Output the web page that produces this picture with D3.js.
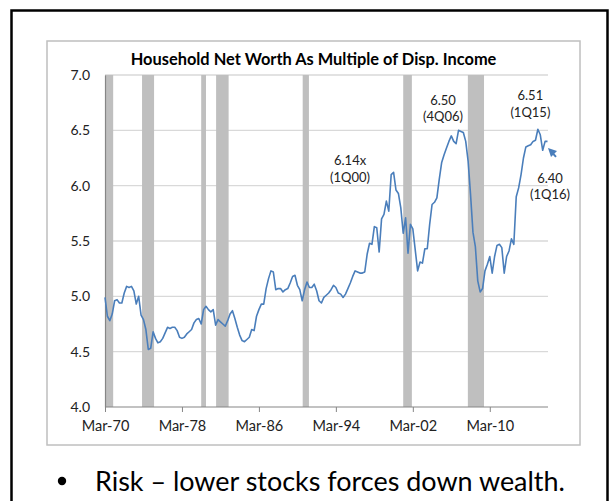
<!DOCTYPE html>
<html><head><meta charset="utf-8">
<script src="https://cdn.jsdelivr.net/npm/d3@7"></script>
<style>body{margin:0;background:#fff;} svg{display:block;font-family:Lato,"Open Sans",sans-serif;}</style>
</head><body><div id="c"></div>
<script>
// Quarterly data, 1970Q1 .. 2016Q1
const startYear = 1970;
const values = [
4.99,4.82,4.78,4.84,4.96,4.97,4.94,4.94,5.03,5.09,
5.08,5.09,5.05,4.93,5.00,4.83,4.79,4.70,4.52,4.53,
4.68,4.62,4.58,4.59,4.62,4.67,4.72,4.71,4.72,4.72,
4.69,4.63,4.62,4.63,4.66,4.68,4.70,4.76,4.79,4.80,
4.75,4.88,4.91,4.88,4.86,4.88,4.74,4.79,4.77,4.75,
4.73,4.78,4.84,4.87,4.80,4.72,4.65,4.60,4.59,4.61,
4.63,4.70,4.69,4.82,4.88,4.93,4.93,5.07,5.16,5.23,
5.22,5.06,5.07,5.07,5.04,5.06,5.07,5.12,5.18,5.19,
5.10,5.06,4.96,5.06,5.13,5.08,5.08,5.11,5.05,4.96,
4.94,4.99,5.01,5.03,5.06,5.10,5.08,5.03,5.02,4.99,
5.02,5.07,5.12,5.18,5.23,5.22,5.21,5.21,5.22,5.38,
5.48,5.47,5.63,5.62,5.40,5.70,5.74,5.86,5.77,6.10,
6.12,5.96,5.93,5.80,5.57,5.71,5.39,5.65,5.61,5.42,
5.23,5.31,5.30,5.43,5.43,5.65,5.83,5.85,5.89,6.06,
6.21,6.28,6.34,6.40,6.45,6.40,6.38,6.50,6.49,6.48,
6.40,6.22,5.92,5.58,5.45,5.14,5.04,5.07,5.23,5.29,
5.36,5.21,5.36,5.46,5.47,5.44,5.21,5.36,5.41,5.52,
5.47,5.90,5.98,6.10,6.25,6.35,6.36,6.37,6.40,6.41,
6.51,6.46,6.32,6.40,6.40
];
const recessionStart = [1970.0, 1973.85, 1980.0, 1981.55, 1990.55, 2001.0, 2007.72];
const recessionEnd   = [1970.85, 1975.1, 1980.5, 1982.85, 1991.2, 2001.9, 2009.4];
const yTicks = [4.0, 4.5, 5.0, 5.5, 6.0, 6.5, 7.0];
const xTickYears = [1970, 1978, 1986, 1994, 2002, 2010];
const xTickLabels = ["Mar-70","Mar-78","Mar-86","Mar-94","Mar-02","Mar-10"];
const annoLabels = [
  {year: 2000.0, val: 6.14, lines: ["6.14x","(1Q00)"]},
  {year: 2006.75, val: 6.50, lines: ["6.50","(4Q06)"]},
  {year: 2015.0, val: 6.51, lines: ["6.51","(1Q15)"]},
  {year: 2016.0, val: 6.40, lines: ["6.40","(1Q16)"]}
];
const title = "Household Net Worth As Multiple of Disp. Income";
const bulletText = "Risk \u2013 lower stocks forces down wealth.";

const data = values.map((v,i)=>({t: startYear + i/4, v}));

const W = 610, H = 501;
const svg = d3.select("#c").append("svg").attr("width",W).attr("height",H);

// frames
svg.append("rect").attr("x",11.5).attr("y",10.5).attr("width",596).attr("height",520)
  .attr("fill","none").attr("stroke","#000").attr("stroke-width",2.5);
svg.append("rect").attr("x",47).attr("y",41).attr("width",533).attr("height",404)
  .attr("fill","#fff").attr("stroke","#bfbfbf").attr("stroke-width",1.5);

const x = d3.scaleLinear().domain([1970, 2016]).range([105, 547.5]);
const y = d3.scaleLinear().domain([4, 7]).range([407, 75]);

function fit(sel, w){
  const n = sel.node(); let fs = parseFloat(sel.attr("font-size"));
  const len = n.getComputedTextLength(); sel.attr("font-size", fs*w/len);
}

// title
const t = svg.append("text").attr("x",313.5).attr("y",65).attr("text-anchor","middle")
  .attr("font-weight","bold").attr("font-size",15).attr("fill","#000").text(title);
fit(t, 366);

// gridlines
svg.append("g").selectAll("line").data(yTicks.filter(d=>d>4)).join("line")
  .attr("x1",x(1970)).attr("x2",548).attr("y1",d=>y(d)).attr("y2",d=>y(d))
  .attr("stroke","#d9d9d9").attr("stroke-width",1.3);

// recession bars
svg.append("g").selectAll("rect").data(recessionStart.map((s,i)=>[s,recessionEnd[i]])).join("rect")
  .attr("x",d=>x(d[0])).attr("width",d=>x(d[1])-x(d[0]))
  .attr("y",y(7)).attr("height",y(4)-y(7)).attr("fill","#bfbfbf");

// axes
const yAxis = d3.axisLeft(y).tickValues(yTicks).tickFormat(d3.format(".1f")).tickSize(0).tickPadding(15);
const gy = svg.append("g").attr("transform",`translate(${x(1970)},0)`).call(yAxis);
gy.select(".domain").attr("stroke","#868686").attr("stroke-width",1.2);
gy.selectAll("text").attr("font-size",14).attr("fill","#222").attr("font-family","Lato");

const xAxis = d3.axisBottom(x).tickValues(xTickYears).tickFormat((d,i)=>xTickLabels[i]).tickSize(5).tickSizeOuter(0).tickPadding(9);
const gx = svg.append("g").attr("transform",`translate(0,${y(4)})`).call(xAxis);
gx.select(".domain").attr("stroke","#868686").attr("stroke-width",1.2).attr("d",`M${x(1970)},0H548`);
gx.selectAll(".tick line").attr("stroke","#868686");
gx.selectAll("text").attr("font-size",14.5).attr("fill","#222").attr("font-family","Lato");

// line
const line = d3.line().x(d=>x(d.t)).y(d=>y(d.v));
svg.append("path").datum(data).attr("d",line).attr("fill","none")
  .attr("stroke","#4a7ebb").attr("stroke-width",1.6).attr("stroke-linejoin","round");

// annotations
const annoPos = [
  {dx:-43.5, y1:165, y2:182},
  {dx:-15.5, y1:105, y2:121},
  {dx:-7.5, y1:100, y2:117},
  {dx:2.5, y1:183, y2:199}
];
annoLabels.forEach((a,i)=>{
  const p = annoPos[i];
  [p.y1,p.y2].forEach((yy,j)=>{
    svg.append("text").attr("x",x(a.year)+p.dx).attr("y",yy).attr("text-anchor","middle")
      .attr("font-size",13).attr("fill","#222").text(a.lines[j]);
  });
});

// arrow pointing at last point
const tipX = x(2016)+0.5, tipY = y(6.40)+6.5;
svg.append("line").attr("x1",tipX+8).attr("y1",tipY+9).attr("x2",tipX+3).attr("y2",tipY+3.5)
  .attr("stroke","#4a7ebb").attr("stroke-width",2);
svg.append("path").attr("d",`M${tipX},${tipY} L${tipX+9},${tipY+3} L${tipX+3},${tipY+9} Z`).attr("fill","#4a7ebb");

// bullet text
svg.append("circle").attr("cx",62).attr("cy",481).attr("r",4.2).attr("fill","#000");
const bt = svg.append("text").attr("x",95).attr("y",491).attr("font-size",26).attr("fill","#000").text(bulletText);
fit(bt, 470);
</script></body></html>
